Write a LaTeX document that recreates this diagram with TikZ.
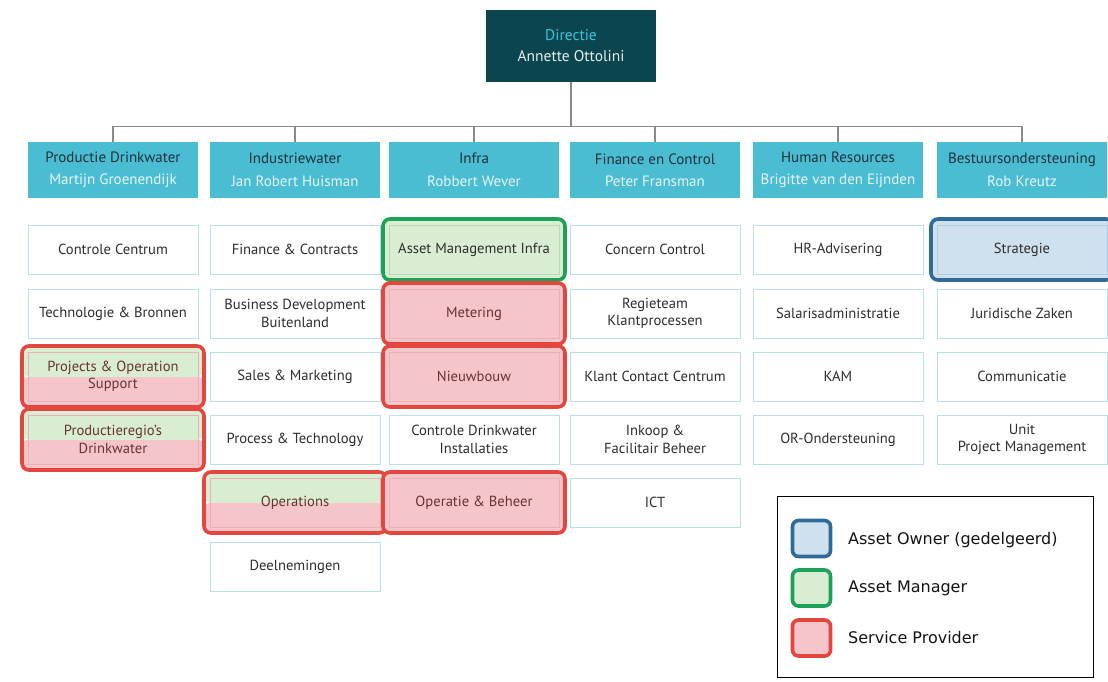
\documentclass[tikz,border=0pt]{standalone}
\usepackage{fontspec}
\setmainfont{PT Sans}
\newfontfamily\legendfont{DejaVu Sans}
\usetikzlibrary{fit,backgrounds}

\definecolor{dirfill}{HTML}{0B4650}
\definecolor{dirtitle}{HTML}{3CC3DC}
\definecolor{dirname}{HTML}{E3EFF1}
\definecolor{headfill}{HTML}{4BBDD3}
\definecolor{headtitle}{HTML}{1B313A}
\definecolor{headname}{HTML}{E6F6F9}
\definecolor{connline}{HTML}{8A8A8A}
\definecolor{boxline}{HTML}{B9DFE9}
\definecolor{boxtext}{HTML}{2E2E2E}
\definecolor{spfill}{HTML}{F5C5C9}
\definecolor{spline}{HTML}{E2463E}
\definecolor{spinner}{HTML}{E5B3B7}
\definecolor{sptext}{HTML}{663333}
\definecolor{amfill}{HTML}{D9EDD2}
\definecolor{amline}{HTML}{1CA159}
\definecolor{aminner}{HTML}{BCD9B4}
\definecolor{aofill}{HTML}{CFE1EE}
\definecolor{aoline}{HTML}{2E6A9A}
\definecolor{aoinner}{HTML}{AFCBE0}

\begin{document}
\begin{tikzpicture}[x=1pt,y=-1pt,
  directie/.style={fill=dirfill, minimum width=170pt, minimum height=72pt,
    align=center, inner sep=2pt, font=\fontsize{15.5}{21}\selectfont},
  head/.style={fill=headfill, minimum width=170pt, minimum height=56pt,
    align=center, inner sep=2pt, text=headtitle, font=\fontsize{15}{22.5}\selectfont},
  unit/.style={draw=boxline, line width=1pt, fill=white, minimum width=170pt,
    minimum height=49pt, inner sep=2pt, align=center, text=boxtext,
    font=\fontsize{14.6}{17.5}\selectfont},
  conn/.style={draw=connline, line width=1.4pt},
  halves/.style={path picture={
      \fill[amfill] (path picture bounding box.north west) rectangle (path picture bounding box.east);
      \fill[spfill] (path picture bounding box.west) rectangle (path picture bounding box.south east);}},
  spunit/.style={unit, fill=spfill, draw=spinner, text=sptext},
  splitunit/.style={unit, draw=spinner, halves, text=sptext},
  amunit/.style={unit, fill=amfill, draw=aminner, text=boxtext},
  aounit/.style={unit, fill=aofill, draw=aoinner, text=boxtext},
  frame/.style={line width=3.6pt, rounded corners=7pt, inner sep=5.5pt},
  spframe/.style={frame, draw=spline, fill=spfill},
  splitframe/.style={frame, draw=spline, halves},
  amframe/.style={frame, draw=amline, fill=amfill},
  aoframe/.style={frame, draw=aoline, fill=aofill},
  swatch/.style={line width=3.6pt, rounded corners=6pt, minimum width=38pt, minimum height=36pt},
  legtext/.style={anchor=west, inner sep=0pt, text=black!92,
    font=\legendfont\fontsize{16}{18}\selectfont}
]
\useasboundingbox (0,0) rectangle (1108,681);

% board
\node[directie] (dir) at (571,45.5)
  {\textcolor{dirtitle}{Directie}\\\textcolor{dirname}{Annette Ottolini}};

% divisions
\node[head] (h1) at (113,170) {Productie Drinkwater\\\textcolor{headname}{Martijn Groenendijk}};
\node[head] (h2) at (295,170) {Industriewater\\\textcolor{headname}{Jan Robert Huisman}};
\node[head] (h3) at (474,170) {Infra\\\textcolor{headname}{Robbert Wever}};
\node[head] (h4) at (655,170) {Finance en Control\\\textcolor{headname}{Peter Fransman}};
\node[head] (h5) at (838,170) {Human Resources\\\textcolor{headname}{Brigitte van den Eijnden}};
\node[head] (h6) at (1022,170) {Bestuursondersteuning\\\textcolor{headname}{Rob Kreutz}};

% reporting lines
\foreach \h in {h1,h2,h3,h4,h5,h6}
  \draw[conn] (dir.south) -- ++(0,44.5) -| (\h.north);

% Productie Drinkwater
\node[unit] (pd1) at (113,249.5) {Controle Centrum};
\node[unit] (pd2) at (113,313.5) {Technologie \& Bronnen};
\node[splitunit] (pd3) at (113,376.5) {Projects \& Operation\\Support};
\node[splitunit] (pd4) at (113,439.5) {Productieregio’s\\Drinkwater};

% Industriewater
\node[unit] (iw1) at (295,249.5) {Finance \& Contracts};
\node[unit] (iw2) at (295,313.5) {Business Development\\Buitenland};
\node[unit] (iw3) at (295,376.5) {Sales \& Marketing};
\node[unit] (iw4) at (295,439.5) {Process \& Technology};
\node[splitunit] (iw5) at (295,502.5) {Operations};
\node[unit] (iw6) at (295,566.5) {Deelnemingen};

% Infra
\node[amunit] (in1) at (474,249.5) {Asset Management Infra};
\node[spunit] (in2) at (474,313.5) {Metering};
\node[spunit] (in3) at (474,376.5) {Nieuwbouw};
\node[unit] (in4) at (474,439.5) {Controle Drinkwater\\Installaties};
\node[spunit] (in5) at (474,502.5) {Operatie \& Beheer};

% Finance en Control
\node[unit] (fc1) at (655,249.5) {Concern Control};
\node[unit] (fc2) at (655,313.5) {Regieteam\\Klantprocessen};
\node[unit] (fc3) at (655,376.5) {Klant Contact Centrum};
\node[unit] (fc4) at (655,439.5) {Inkoop \&\\Facilitair Beheer};
\node[unit] (fc5) at (655,502.5) {ICT};

% Human Resources
\node[unit] (hr1) at (838,249.5) {HR-Advisering};
\node[unit] (hr2) at (838,313.5) {Salarisadministratie};
\node[unit] (hr3) at (838,376.5) {KAM};
\node[unit] (hr4) at (838,439.5) {OR-Ondersteuning};

% Bestuursondersteuning
\node[aounit] (bo1) at (1022,249.5) {Strategie};
\node[unit] (bo2) at (1022,313.5) {Juridische Zaken};
\node[unit] (bo3) at (1022,376.5) {Communicatie};
\node[unit] (bo4) at (1022,439.5) {Unit\\Project Management};

% role frames
\begin{scope}[on background layer]
  \node[splitframe, fit=(pd3)] (fpd3) {};
  \node[splitframe, fit=(pd4)] (fpd4) {};
  \node[splitframe, fit=(iw5)] (fiw5) {};
  \node[amframe, fit=(in1)] (fin1) {};
  \node[spframe, fit=(in2)] (fin2) {};
  \node[spframe, fit=(in3)] (fin3) {};
  \node[spframe, fit=(in5)] (fin5) {};
  \node[aoframe, fit=(bo1)] (fbo1) {};
\end{scope}

% legend
\node[draw=black, line width=1.6pt, minimum width=316pt, minimum height=181pt] (legend) at (935.5,587) {};
\node[swatch, draw=aoline, fill=aofill] (sw1) at (811.5,538.5) {};
\node[swatch, draw=amline, fill=amfill] (sw2) at (811.5,588) {};
\node[swatch, draw=spline, fill=spfill] (sw3) at (811.5,638) {};
\node[legtext] (lt1) at (848,540) {Asset Owner (gedelgeerd)};
\node[legtext] (lt2) at (848,588) {Asset Manager};
\node[legtext] (lt3) at (848,638) {Service Provider};
\end{tikzpicture}
\end{document}
